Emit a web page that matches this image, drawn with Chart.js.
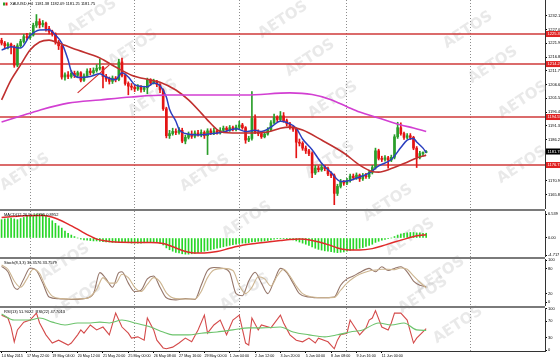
<!DOCTYPE html>
<html><head><meta charset="utf-8">
<script src="https://cdn.jsdelivr.net/npm/chart.js"></script>
<style>
html,body{margin:0;padding:0;background:#fff;}
#wrap{position:relative;width:560px;height:361px;overflow:hidden;background:#fff;}
canvas{position:absolute;left:0;}
</style></head><body>
<div id="wrap">
<canvas id="cMain" width="560" height="209" style="top:0px"></canvas>
<canvas id="cMacd" width="560" height="48" style="top:209px"></canvas>
<canvas id="cStoch" width="560" height="49" style="top:257px"></canvas>
<canvas id="cRsi" width="560" height="55" style="top:306px"></canvas>
</div>
<script>
// ---------------- DATA ----------------
const N_SLOTS = 172;
const timeLabels = ["14 May 2015","17 May 22:00","19 May 04:00","20 May 12:00","21 May 20:00","25 May 00:00","26 May 08:00","27 May 16:00","29 May 00:00","1 Jun 04:00","2 Jun 12:00","3 Jun 20:00","5 Jun 04:00","8 Jun 08:00","9 Jun 16:00","11 Jun 00:00"];
const timeLabelBars = [0,8,16,24,32,40,48,56,64,72,80,88,96,104,112,120];
const gridBars = [9,42,75,109,148];

const opens = [1223.0,1222.0,1221.0,1221.6,1220.6,1213.8,1221.0,1222.6,1224.4,1224.0,1225.0,1228.6,1230.0,1228.8,1229.4,1227.4,1226.2,1225.4,1222.4,1221.0,
1209.4,1210.2,1209.6,1210.8,1210.0,1211.0,1208.2,1209.8,1211.6,1211.0,1211.8,1212.6,1213.0,1209.6,1208.6,1207.8,1209.0,1208.4,1215.0,1210.0,
1207.0,1206.0,1205.6,1205.0,1205.8,1204.8,1205.4,1208.4,1207.2,1207.8,1206.6,1204.6,1197.6,1187.6,1188.4,1189.2,1188.8,1189.6,1185.6,1187.0,
1188.2,1187.4,1188.6,1188.0,1188.8,1187.6,1189.4,1188.6,1189.4,1188.8,1189.6,1190.4,1189.8,1190.6,1190.0,1190.8,1191.6,1190.6,1186.0,1186.6,
1194.0,1189.0,1188.4,1187.2,1188.2,1189.8,1192.4,1194.4,1193.6,1195.0,1193.2,1192.0,1190.6,1190.0,1185.2,1184.8,1183.0,1182.0,1181.0,1173.8,
1175.6,1175.0,1176.0,1175.4,1173.4,1172.8,1166.2,1168.8,1170.4,1170.0,1171.0,1172.6,1172.0,1173.0,1171.6,1172.8,1172.4,1174.0,1175.8,1182.0,
1179.2,1178.8,1179.4,1178.6,1179.6,1187.2,1190.6,1188.4,1187.0,1187.6,1187.0,1183.0,1179.6,1181.0,1181.38];
const highs = [1223.8,1222.6,1222.2,1222.0,1221.2,1221.8,1223.4,1225.2,1225.6,1225.8,1229.4,1232.6,1231.0,1230.4,1229.8,1228.2,1226.8,1225.8,1223.0,1221.4,
1211.0,1211.4,1211.8,1211.6,1211.6,1211.4,1210.6,1212.4,1212.6,1212.8,1214.0,1216.0,1213.4,1210.4,1209.4,1209.8,1209.6,1216.0,1216.4,1210.6,
1207.6,1207.0,1206.4,1206.6,1206.2,1206.0,1209.0,1208.8,1208.6,1208.2,1207.0,1205.0,1198.2,1189.6,1190.4,1190.2,1190.6,1190.4,1187.8,1189.0,
1189.4,1189.4,1189.6,1189.8,1189.4,1190.2,1190.2,1190.4,1190.0,1190.6,1191.2,1191.0,1191.4,1191.2,1191.6,1193.0,1192.2,1191.0,1187.4,1204.0,
1195.4,1189.8,1189.0,1189.0,1190.6,1193.2,1195.6,1195.0,1196.6,1196.2,1193.8,1192.6,1191.2,1190.4,1186.4,1185.4,1183.8,1182.6,1181.6,1176.6,
1176.4,1176.8,1176.6,1176.0,1174.2,1173.4,1169.6,1171.4,1171.0,1171.8,1173.4,1173.4,1173.8,1173.4,1173.6,1173.6,1174.8,1176.6,1183.0,1182.6,
1180.0,1180.2,1180.0,1180.4,1188.0,1192.6,1192.4,1189.0,1188.4,1188.4,1187.4,1183.6,1181.8,1181.6,1182.09];
const lows = [1221.3,1220.2,1219.8,1218.0,1213.0,1213.2,1220.4,1222.0,1223.2,1223.5,1224.6,1227.8,1227.6,1228.0,1226.4,1225.4,1224.6,1221.6,1219.6,1208.6,
1208.2,1208.8,1209.0,1209.2,1209.4,1207.6,1207.8,1209.4,1210.2,1210.4,1211.2,1212.0,1205.4,1207.8,1206.8,1207.0,1207.6,1208.0,1209.4,1206.4,
1202.8,1204.6,1204.0,1204.4,1203.8,1204.0,1203.2,1206.4,1206.8,1205.8,1203.6,1197.0,1186.8,1186.6,1187.8,1188.0,1188.2,1185.0,1184.6,1186.4,
1186.6,1186.8,1187.4,1187.2,1186.6,1180.6,1188.0,1188.0,1188.2,1188.2,1189.0,1189.2,1189.2,1189.4,1189.4,1190.2,1190.0,1184.8,1185.4,1186.0,
1188.4,1187.6,1186.6,1186.8,1187.8,1189.4,1192.0,1192.8,1193.0,1192.6,1191.2,1190.0,1189.2,1179.4,1183.8,1182.2,1181.0,1180.2,1172.0,1173.2,
1174.2,1174.4,1174.6,1172.8,1172.0,1162.0,1165.4,1168.2,1169.2,1169.4,1170.4,1171.2,1171.4,1170.6,1171.0,1171.8,1171.8,1173.4,1175.2,1178.6,
1178.0,1178.2,1175.6,1178.0,1179.0,1186.6,1187.8,1186.2,1186.4,1186.2,1182.4,1175.8,1179.0,1180.0,1181.25];
const closes = [1222.0,1221.0,1221.6,1220.6,1213.8,1221.0,1222.6,1224.4,1224.0,1225.0,1228.6,1230.0,1228.8,1229.4,1227.4,1226.2,1225.4,1222.4,1221.0,1209.4,
1210.2,1209.6,1210.8,1210.0,1211.0,1208.2,1209.8,1211.6,1211.0,1211.8,1212.6,1213.0,1209.6,1208.6,1207.8,1209.0,1208.4,1215.0,1210.0,1207.0,
1206.0,1205.6,1205.0,1205.8,1204.8,1205.4,1208.4,1207.2,1207.8,1206.6,1204.6,1197.6,1187.6,1188.4,1189.2,1188.8,1189.6,1185.6,1187.0,1188.2,
1187.4,1188.6,1188.0,1188.8,1187.6,1189.4,1188.6,1189.4,1188.8,1189.6,1190.4,1189.8,1190.6,1190.0,1190.8,1191.6,1190.6,1186.0,1186.6,1194.0,
1189.0,1188.4,1187.2,1188.2,1189.8,1192.4,1194.4,1193.6,1195.0,1193.2,1192.0,1190.6,1190.0,1185.2,1184.8,1183.0,1182.0,1181.0,1173.8,1175.6,
1175.0,1176.0,1175.4,1173.4,1172.8,1166.2,1168.8,1170.4,1170.0,1171.0,1172.6,1172.0,1173.0,1171.6,1172.8,1172.4,1174.0,1175.8,1182.0,1179.2,
1178.8,1179.4,1178.6,1179.6,1187.2,1190.6,1188.4,1187.0,1187.6,1187.0,1183.0,1179.6,1181.0,1181.4,1181.75];

const maFast = [[0,1219.4],[3,1220.6],[6,1220.2],[9,1224.8],[12,1226.9],[15,1227.0],[17,1225.0],[19,1222.0],[21,1215.7],[22,1211.5],[25,1209.2],[28,1209.6],[31,1210.6],[33,1209.4],[36,1208.4],[38,1211.0],[40,1209.4],[42,1206.6],[46,1205.8],[48,1207.2],[50,1206.2],[52,1202.0],[53,1197.4],[55,1193.0],[56,1190.0],[58,1188.4],[62,1187.9],[66,1188.3],[70,1189.0],[74,1190.2],[77,1189.2],[80,1189.6],[82,1189.2],[85,1190.8],[88,1193.0],[90,1192.5],[93,1190.4],[95,1186.4],[98,1182.4],[101,1177.4],[104,1174.0],[107,1170.6],[110,1171.0],[113,1172.3],[116,1173.7],[119,1176.4],[123,1178.8],[126,1183.2],[128,1186.0],[130,1186.6],[131,1185.3],[133,1183.0],[134,1181.4]];
const maMid = [[0,1200.9],[3,1208.3],[6,1213.9],[9,1219.4],[12,1222.4],[15,1223.1],[18,1222.0],[24,1219.4],[31,1216.5],[36,1213.1],[41,1210.1],[47,1208.3],[50,1207.5],[55,1204.6],[59,1200.9],[63,1196.0],[65,1193.4],[68,1189.9],[70,1188.8],[77,1188.6],[84,1189.0],[88,1190.4],[91,1190.8],[95,1189.7],[101,1186.0],[108,1181.2],[113,1176.7],[117,1174.3],[119,1174.1],[123,1175.4],[128,1177.8],[131,1179.3],[134,1180.4]];
const maSlow = [[0,1192.7],[6,1194.9],[12,1197.1],[21,1199.7],[31,1200.9],[41,1202.0],[52,1202.7],[63,1202.7],[77,1202.7],[91,1203.5],[98,1202.9],[104,1201.0],[109,1198.4],[113,1196.4],[119,1194.2],[126,1191.6],[130,1190.5],[134,1189.2]];
const levels = [1225.37, 1214.21, 1194.55, 1176.73];
const trendLine = [[24,1203.5],[34,1213.9]];
const priceTicks = [1232.10,1227.00,1221.90,1216.80,1211.70,1206.60,1201.50,1196.40,1191.30,1186.20,1176.00,1170.90,1165.80];
const lastPrice = 1181.75;

const macdHist = [5.0,5.2,5.3,5.4,5.2,5.0,5.3,5.6,5.9,6.1,6.3,6.5,6.5,6.4,6.0,5.4,4.7,4.0,3.3,2.7,
1.9,1.3,0.8,0.4,0.0,-0.3,-0.5,-0.6,-0.7,-0.8,-0.8,-0.9,-1.0,-1.1,-1.1,-1.2,-1.2,-1.1,-1.1,-1.2,
-1.3,-1.4,-1.4,-1.4,-1.4,-1.3,-1.2,-1.2,-1.2,-1.3,-1.4,-1.9,-2.7,-3.2,-3.6,-3.9,-4.1,-4.3,-4.4,-4.4,
-4.3,-4.2,-4.0,-3.8,-3.6,-3.4,-3.2,-3.0,-2.8,-2.6,-2.4,-2.2,-2.0,-1.8,-1.7,-1.5,-1.4,-1.4,-1.3,-1.1,
-1.0,-0.9,-0.9,-0.8,-0.7,-0.5,-0.3,-0.2,-0.1,-0.1,-0.2,-0.3,-0.5,-0.8,-1.1,-1.4,-1.7,-2.0,-2.4,-2.8,
-3.1,-3.3,-3.5,-3.6,-3.7,-3.9,-4.0,-3.9,-3.8,-3.6,-3.4,-3.2,-3.0,-2.8,-2.6,-2.3,-2.0,-1.7,-1.2,-0.9,
-0.6,-0.4,-0.2,0.0,0.4,0.8,1.1,1.3,1.4,1.5,1.5,1.4,1.4,1.3,1.3];
const macdSignal = [[0,5.6],[6,6.0],[13,6.1],[17,5.4],[21,3.8],[24,2.4],[26,1.4],[28,0.5],[30,-0.3],[33,-0.8],[36,-1.1],[42,-1.2],[47,-1.2],[51,-1.5],[54,-2.4],[57,-3.4],[60,-4.0],[64,-4.1],[68,-3.7],[72,-2.8],[76,-2.0],[80,-1.5],[84,-1.1],[88,-0.7],[91,-0.4],[94,-0.3],[98,-0.7],[103,-1.8],[106,-2.7],[109,-3.2],[113,-3.3],[117,-2.9],[120,-2.2],[124,-1.1],[128,-0.1],[131,0.6],[134,0.9]];
const macdTicks = [6.539, 0, -4.717];
const macdTickText = ["6.539","0.00","-4.717"];

const stochMain = [[0,85],[2,72],[4,35],[5,30],[7,55],[9,81],[11,75],[13,45],[15,12],[18,8],[22,6],[26,8],[29,20],[31,70],[33,55],[35,35],[37,70],[38,72],[40,45],[42,25],[44,28],[46,55],[48,62],[50,35],[52,10],[55,5],[58,8],[61,6],[63,40],[65,75],[67,82],[70,80],[72,70],[74,20],[76,15],[78,50],[80,71],[82,45],[84,20],[86,50],[88,80],[90,70],[92,45],[94,20],[97,12],[101,10],[105,12],[107,40],[109,55],[111,62],[113,70],[116,80],[118,72],[120,84],[122,75],[124,80],[126,84],[128,72],[130,50],[132,40],[134,36.36]];
const stochSignal = [[0,88],[2,78],[4,50],[6,35],[8,55],[10,78],[12,68],[14,35],[16,14],[19,8],[23,7],[27,9],[30,30],[32,58],[34,45],[36,45],[38,66],[40,58],[42,35],[44,25],[46,42],[48,58],[50,48],[52,22],[55,8],[58,7],[61,7],[63,25],[65,58],[67,76],[70,80],[73,75],[75,40],[77,20],[79,35],[81,60],[83,55],[85,38],[87,62],[89,78],[91,62],[93,38],[95,20],[98,12],[102,10],[105,11],[107,28],[109,45],[111,57],[113,66],[116,74],[118,76],[120,78],[122,78],[124,77],[126,81],[128,78],[130,62],[132,47],[134,33.76]];
const stochTicks = [100, 80, 20, 0];

const rsiFast = [[0,85],[2,78],[3,56],[4,20],[5,49],[7,68],[9,73],[11,90],[12,66],[14,37],[16,17],[18,24],[21,12],[22,17],[24,37],[25,49],[26,41],[28,61],[30,49],[32,56],[34,37],[36,90],[38,56],[40,41],[41,29],[43,32],[45,24],[46,78],[48,49],[49,24],[51,5],[52,3],[54,7],[56,17],[58,29],[60,20],[62,49],[64,85],[65,41],[67,61],[69,73],[71,37],[73,73],[75,85],[77,17],[78,12],[79,78],[81,49],[82,61],[85,54],[88,85],[89,66],[91,37],[93,24],[95,20],[97,29],[99,17],[100,29],[103,20],[105,3],[106,24],[107,37],[109,41],[110,73],[111,61],[113,37],[115,54],[116,73],[117,78],[118,96],[120,56],[122,49],[123,66],[124,90],[126,90],[128,73],[130,17],[131,29],[134,51.9]];
const rsiSlow = [[0,88],[4,73],[9,73],[12,78],[16,68],[20,61],[24,66],[28,66],[31,68],[34,66],[38,73],[42,66],[47,56],[51,44],[54,37],[59,37],[63,41],[68,44],[73,49],[78,54],[82,54],[88,56],[92,44],[97,37],[102,32],[106,37],[110,44],[114,49],[119,66],[123,61],[127,66],[131,49],[134,47.7]];
const rsiTicks = [100, 70, 30, 0];

const titleText = "XAUUSD,H4  1181.38 1182.09 1181.25 1181.75";
const macdText = "MACD(12,26,9) 1.2765 0.8952";
const stochText = "Stoch(8,3,3) 36.3576 33.7579";
const rsiText = "RSI(13) 51.9022  RSI(22) 47.7013";

// watermark placement (page px, decorative)
const watermarks = [[92,17],[133,48],[153,98],[283,20],[310,58],[333,100],[468,30],[493,65],[523,100],
[25,172],[205,173],[330,160],[388,203],[522,165],[65,262],[247,220],[410,237],[440,275],[77,300],[245,292],[423,295],[458,325]];

// ---------------- HELPERS ----------------
const FONT = "'Liberation Sans', Arial, sans-serif";
const XMIN = -0.5, XMAX = N_SLOTS - 0.5;
const pts = a => a.map(([x, y]) => ({x, y}));
const UP = '#2a9e2a', DN = '#e41414';
const candleCol = opens.map((o, i) => closes[i] >= o ? UP : DN);

function xGrid() {
  return { type: 'linear', min: XMIN, max: XMAX, position: 'bottom', offset: false,
    afterBuildTicks: s => { s.ticks = gridBars.map(v => ({value: v})); },
    afterFit: s => { s.height = 0; s.paddingLeft = 0; s.paddingRight = 0; },
    ticks: {display: false},
    grid: {color: '#8c8c8c', lineWidth: 1, drawTicks: false, offset: false},
    border: {display: false, dash: [1, 2]} };
}
function yAxis(min, max, ticks, fmt) {
  return { position: 'right', min, max, beginAtZero: false,
    afterBuildTicks: s => { s.ticks = ticks.map(v => ({value: v})); },
    afterFit: s => { s.width = 15; s.paddingTop = 0; s.paddingBottom = 0; },
    ticks: {font: {family: FONT, size: 4, lineHeight: 1}, color: '#000', padding: 1, autoSkip: false, callback: fmt},
    grid: {display: true, drawOnChartArea: false, drawTicks: true, tickLength: 2, color: '#000'},
    border: {display: true, color: '#333', width: 1} };
}
function line(data, color, width, extra) {
  return Object.assign({type: 'line', data: pts(data), borderColor: color, borderWidth: width,
    pointRadius: 0, fill: false, cubicInterpolationMode: 'monotone', order: 1}, extra || {});
}
const panelText = (txt, topPad) => ({
  id: 'ptxt',
  afterDraw(c) {
    const ctx = c.ctx; ctx.save();
    ctx.font = `4px ${FONT}`; ctx.fillStyle = '#000'; ctx.textBaseline = 'top';
    ctx.fillText(txt, c.chartArea.left + (topPad ? 10 : 4), c.chartArea.top + 2);
    if (topPad) { // small symbol icon
      ctx.fillStyle = '#2a9e2a'; ctx.fillRect(c.chartArea.left + 3, c.chartArea.top + 2.5, 2, 3);
      ctx.fillStyle = '#e41414'; ctx.fillRect(c.chartArea.left + 5.5, c.chartArea.top + 2.5, 2, 3);
    }
    ctx.restore();
  }
});
const sepPlugin = {
  id: 'sep',
  afterDraw(c) {
    const ctx = c.ctx; ctx.save();
    ctx.fillStyle = '#7a7a7a';
    ctx.fillRect(0, c.chartArea.top - 2, c.chartArea.right, 2);
    ctx.restore();
  }
};
const wmPlugin = {
  id: 'wm',
  beforeDatasetsDraw(c) {
    const top = parseFloat(c.canvas.style.top) || 0;
    const ctx = c.ctx; ctx.save();
    ctx.font = `bold 15px 'DejaVu Sans', sans-serif`;
    ctx.fillStyle = 'rgba(175,175,175,0.28)';
    ctx.textAlign = 'center'; ctx.textBaseline = 'middle';
    watermarks.forEach(([x, y]) => {
      ctx.save(); ctx.translate(x, y - top); ctx.rotate(-0.58); ctx.fillText('AETOS', 0, 0); ctx.restore();
    });
    ctx.restore();
  }
};
const baseOpts = (scales, pad) => ({
  responsive: false, animation: false, events: [],
  layout: {padding: {top: pad || 0, left: 0, right: 0, bottom: 0}},
  plugins: {legend: {display: false}, tooltip: {enabled: false}},
  scales
});

// ---------------- MAIN PRICE CHART ----------------
const levelSets = levels.map(L => ({type: 'line', data: [{x: XMIN, y: L}, {x: XMAX, y: L}], borderColor: '#cf3a3a', borderWidth: 1.6, pointRadius: 0, order: 5}));
new Chart(document.getElementById('cMain'), {
  type: 'bar',
  data: { datasets: [
    {type: 'bar', data: lows.map((l, i) => ({x: i, y: [l, highs[i]]})), backgroundColor: candleCol, barThickness: 1, grouped: false, order: 4},
    {type: 'bar', data: opens.map((o, i) => ({x: i, y: [o, closes[i]]})), backgroundColor: candleCol, barThickness: 2, minBarLength: 1, grouped: false, order: 3},
    line(maSlow, '#d23fd2', 1.6),
    line(maMid, '#c0302f', 1.6),
    line(maFast, '#2b3fbf', 1.5),
    line(trendLine, '#d03030', 1.2, {cubicInterpolationMode: 'default', tension: 0}),
    ...levelSets
  ]},
  options: baseOpts({
    x: xGrid(),
    y: yAxis(1160.4, 1238, priceTicks, v => v.toFixed(2))
  }),
  plugins: [wmPlugin, panelText(titleText, true), {
    id: 'pricebox',
    afterDraw(c) {
      const ctx = c.ctx, ys = c.scales.y, x0 = c.chartArea.right + 1;
      ctx.save(); ctx.font = `4px ${FONT}`; ctx.textBaseline = 'middle';
      const box = (v, bg) => {
        const y = ys.getPixelForValue(v);
        ctx.fillStyle = bg; ctx.fillRect(x0, y - 3, 16, 6);
        ctx.fillStyle = '#fff'; ctx.fillText(v.toFixed(2), x0 + 1.5, y + 0.3);
      };
      levels.forEach(L => box(L, '#e02222'));
      box(lastPrice, '#000');
      ctx.restore();
    }
  }]
});

// ---------------- MACD ----------------
new Chart(document.getElementById('cMacd'), {
  type: 'bar',
  data: { datasets: [
    {type: 'bar', data: macdHist.map((v, i) => ({x: i, y: v})), backgroundColor: '#27d627', barThickness: 1, grouped: false, order: 3},
    line(macdSignal, '#e02a2a', 1.5)
  ]},
  options: baseOpts({
    x: xGrid(),
    y: yAxis(-5.18, 7.36, macdTicks, (v, i) => macdTickText[i])
  }, 2),
  plugins: [wmPlugin, sepPlugin, panelText(macdText)]
});

// ---------------- STOCHASTIC ----------------
new Chart(document.getElementById('cStoch'), {
  type: 'line',
  data: { datasets: [
    line(stochSignal, '#cdb590', 1.1),
    line(stochMain, '#95766a', 1.1)
  ]},
  options: baseOpts({
    x: xGrid(),
    y: yAxis(-9.5, 102.4, stochTicks, v => String(v))
  }, 2),
  plugins: [wmPlugin, sepPlugin, panelText(stochText)]
});

// ---------------- RSI ----------------
new Chart(document.getElementById('cRsi'), {
  type: 'line',
  data: { datasets: [
    line(rsiSlow, '#6cc36c', 1.1),
    line(rsiFast, '#d44a4a', 1.1, {cubicInterpolationMode: 'default', tension: 0})
  ]},
  options: baseOpts({
    x: xGrid(),
    x2: { type: 'linear', min: XMIN, max: XMAX, position: 'bottom', offset: false,
      afterBuildTicks: s => { s.ticks = timeLabelBars.map(v => ({value: v})); },
      afterFit: s => { s.height = 10; s.paddingLeft = 0; s.paddingRight = 0; },
      ticks: {font: {family: FONT, size: 3.7, lineHeight: 1}, color: '#000', padding: 1, align: 'start', autoSkip: false, maxRotation: 0, callback: (v, i) => timeLabels[i]},
      grid: {display: true, drawOnChartArea: false, drawTicks: true, tickLength: 2, color: '#000'},
      border: {display: true, color: '#333', width: 1} },
    y: yAxis(-2.4, 102.4, rsiTicks, v => String(v))
  }, 2),
  plugins: [wmPlugin, sepPlugin, panelText(rsiText)]
});
</script>
</body></html>
